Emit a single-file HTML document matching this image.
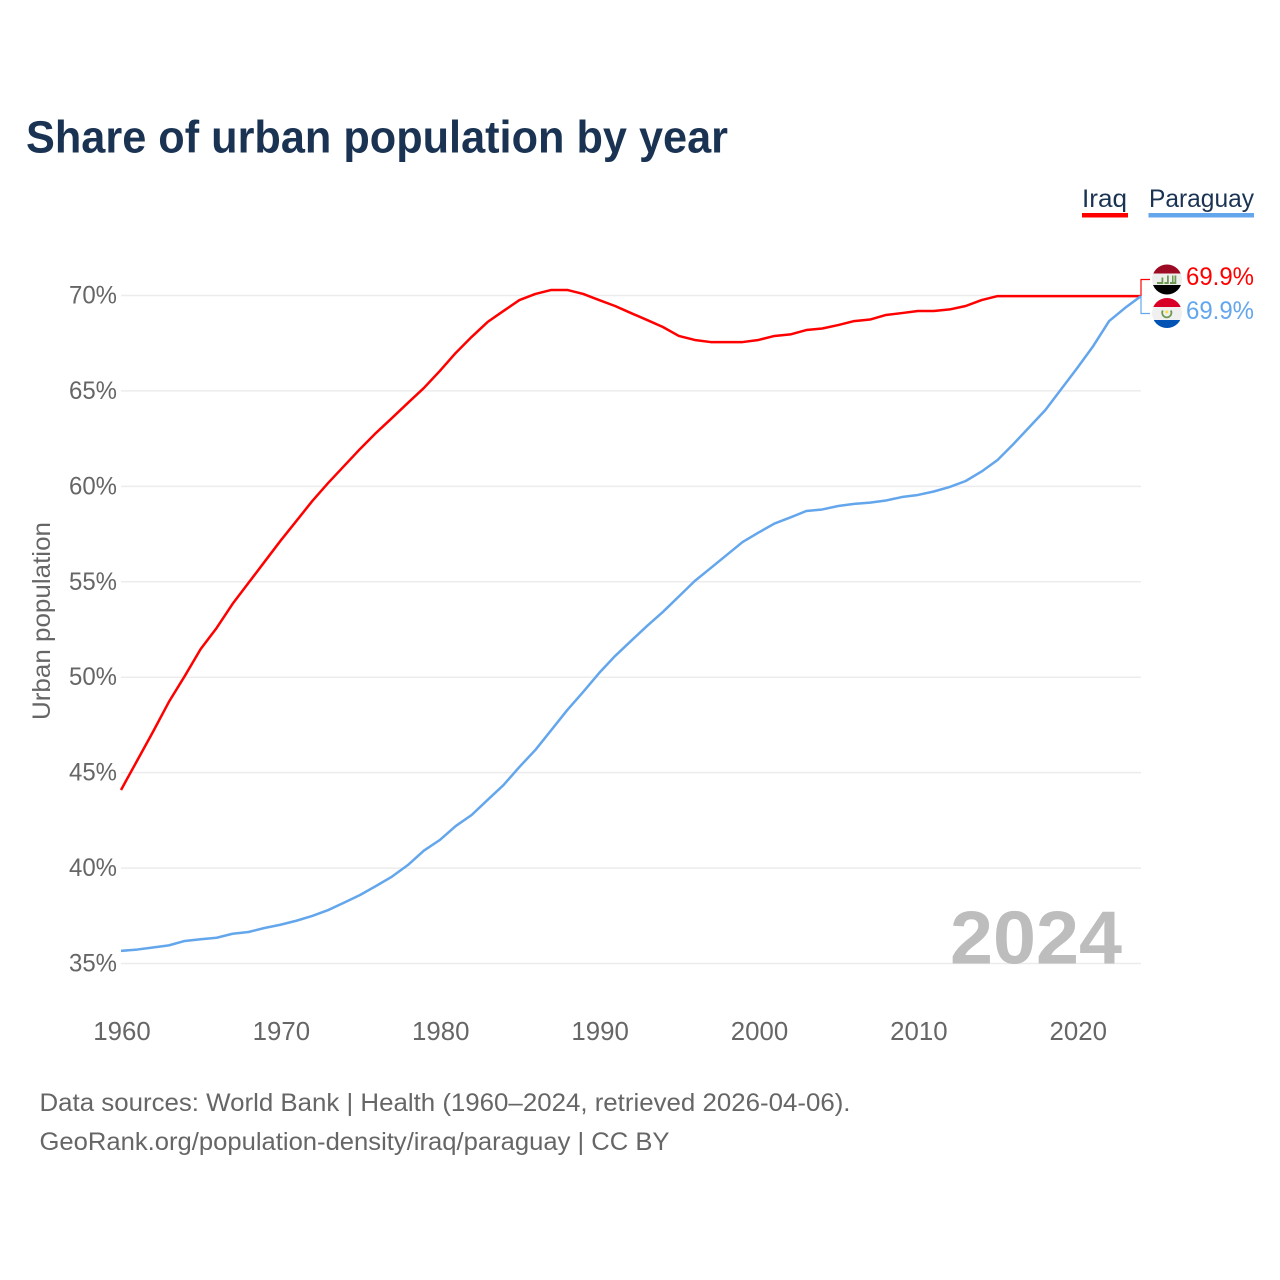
<!DOCTYPE html>
<html lang="en">
<head>
<meta charset="utf-8">
<title>Share of urban population by year</title>
<style>
html,body{margin:0;padding:0;background:#fff;}
svg{display:block;}
text{font-family:"Liberation Sans",sans-serif;}
</style>
</head>
<body>
<svg id="chart" xmlns="http://www.w3.org/2000/svg" width="1280" height="1280" viewBox="0 0 1280 1280">
  <defs>
    <clipPath id="clip-iraq"><circle cx="1167" cy="279.5" r="15"/></clipPath>
    <clipPath id="clip-paraguay"><circle cx="1167" cy="313" r="15"/></clipPath>
  </defs>
  <rect x="0" y="0" width="1280" height="1280" fill="#ffffff"/>
  <text x="26" y="152.500" font-size="45" font-weight="700" fill="#1a3353" textLength="702" lengthAdjust="spacingAndGlyphs">Share of urban population by year</text>

  <g>
    <g>
      <text x="1082" y="207" font-size="25" fill="#1a3353" textLength="45" lengthAdjust="spacingAndGlyphs">Iraq</text>
      <rect x="1082" y="213" width="46" height="4.5" fill="#ff0000"/>
    </g>
    <g>
      <text x="1149" y="207" font-size="25" fill="#1a3353" textLength="105" lengthAdjust="spacingAndGlyphs">Paraguay</text>
      <rect x="1148.5" y="213" width="105.5" height="4.5" fill="#63a6ec"/>
    </g>
  </g>

  <g id="grid"></g>
  <g id="y-axis"></g>
  <g id="x-axis"></g>
  <text transform="translate(50,621) rotate(-90)" text-anchor="middle" font-size="25" fill="#666666" textLength="198" lengthAdjust="spacingAndGlyphs">Urban population</text>

  <text x="950" y="963.500" font-size="75" font-weight="700" fill="#bdbdbd" textLength="172" lengthAdjust="spacingAndGlyphs">2024</text>

  <g id="series"></g>

  <g>
    <g clip-path="url(#clip-iraq)">
      <rect x="1152" y="264" width="30" height="9.500" fill="#9c0a23"/>
      <rect x="1152" y="273.500" width="30" height="11.500" fill="#eeeeee"/>
      <rect x="1152" y="285" width="30" height="10" fill="#000000"/>
      <path d="M1157 284v-2h4.500v-4.500h1.800v6.500zM1164.500 284v-2h2.500v-6.500h1.800v8.500zM1170 284v-2h2v-6.500h1.500v6.500h1v-6.500h1.800v8.500z" fill="#6d9a50"/>
    </g>
    <g clip-path="url(#clip-paraguay)">
      <rect x="1152" y="298" width="30" height="9" fill="#d80027"/>
      <rect x="1152" y="307" width="30" height="13" fill="#f0f0f0"/>
      <rect x="1152" y="320" width="30" height="9" fill="#0052b4"/>
      <path d="M1162.800 310.500a4.600 4.600 0 1 0 8 0" fill="none" stroke="#6d9a50" stroke-width="1.800"/>
      <circle cx="1166.800" cy="312" r="1.500" fill="#ffda44"/>
    </g>
    <text x="1186" y="285" font-size="25" fill="#ff0000" textLength="68" lengthAdjust="spacingAndGlyphs">69.9%</text>
    <text x="1186" y="319" font-size="25" fill="#63a6ec" textLength="68" lengthAdjust="spacingAndGlyphs">69.9%</text>
  </g>

  <text x="39.500" y="1111" font-size="25" fill="#666666" textLength="811" lengthAdjust="spacingAndGlyphs">Data sources: World Bank | Health (1960–2024, retrieved 2026-04-06).</text>
  <text x="39.500" y="1150" font-size="25" fill="#666666" textLength="630" lengthAdjust="spacingAndGlyphs">GeoRank.org/population-density/iraq/paraguay | CC BY</text>
</svg>

<script>
var startYear = 1960;
var iraqValues = [44.09,45.61,47.13,48.70,50.06,51.48,52.58,53.84,54.94,56.04,57.14,58.18,59.23,60.18,61.07,61.96,62.80,63.58,64.37,65.15,66.04,66.99,67.83,68.61,69.19,69.76,70.08,70.29,70.29,70.08,69.76,69.45,69.08,68.72,68.35,67.88,67.67,67.56,67.56,67.56,67.67,67.88,67.96,68.19,68.27,68.45,68.66,68.74,68.98,69.08,69.19,69.19,69.27,69.45,69.76,69.97,69.97,69.97,69.97,69.97,69.97,69.97,69.97,69.97,69.97];
var paraguayValues = [35.66,35.73,35.84,35.95,36.18,36.27,36.35,36.56,36.65,36.86,37.03,37.24,37.49,37.80,38.19,38.59,39.06,39.55,40.16,40.91,41.47,42.20,42.78,43.57,44.35,45.30,46.19,47.23,48.28,49.23,50.22,51.11,51.90,52.68,53.42,54.23,55.04,55.72,56.40,57.08,57.58,58.05,58.37,58.71,58.79,58.97,59.08,59.15,59.26,59.44,59.55,59.73,59.97,60.28,60.78,61.38,62.22,63.11,64.00,65.10,66.20,67.35,68.66,69.35,69.97];
var yTicks = [35,40,45,50,55,60,65,70];
var xTicks = [1960,1970,1980,1990,2000,2010,2020];

var SVG_NS = 'http://www.w3.org/2000/svg';
function xScale(year){ return 121 + (year - 1960) * (1020 / 64); }
function yScale(value){ return 963.5 - (value - 35) * (668 / 35); }

var grid = document.getElementById('grid');
var yAxis = document.getElementById('y-axis');
var xAxis = document.getElementById('x-axis');
var seriesGroup = document.getElementById('series');

yTicks.forEach(function(tick){
  var line = document.createElementNS(SVG_NS, 'line');
  
  
  line.setAttribute('x1', xScale(1960));
  line.setAttribute('x2', xScale(2024));
  line.setAttribute('y1', yScale(tick));
  line.setAttribute('y2', yScale(tick));
  line.setAttribute('stroke', '#ececec');
  line.setAttribute('stroke-width', '1.5');
  grid.appendChild(line);

  var label = document.createElementNS(SVG_NS, 'text');
  
  
  label.setAttribute('x', 69);
  label.setAttribute('y', yScale(tick) + 8);
  label.setAttribute('font-size', '25');
  label.setAttribute('fill', '#666666');
  label.setAttribute('textLength', '48');
  label.setAttribute('lengthAdjust', 'spacingAndGlyphs');
  label.textContent = tick + '%';
  yAxis.appendChild(label);
});

xTicks.forEach(function(tick){
  var label = document.createElementNS(SVG_NS, 'text');
  
  
  label.setAttribute('x', xScale(tick) + 1);
  label.setAttribute('y', 1040);
  label.setAttribute('text-anchor', 'middle');
  label.setAttribute('font-size', '25.8');
  label.setAttribute('fill', '#666666');
  label.textContent = tick;
  xAxis.appendChild(label);
});

function linePath(values){
  return values.map(function(value, i){
    return (i === 0 ? 'M' : 'L') + xScale(startYear + i).toFixed(2) + ' ' + yScale(value).toFixed(2);
  }).join('');
}

var lastX = xScale(startYear + iraqValues.length - 1);
var iraqEndY = yScale(iraqValues[iraqValues.length - 1]);
var paraguayEndY = yScale(paraguayValues[paraguayValues.length - 1]);

var iraqConnector = document.createElementNS(SVG_NS, 'polyline');


iraqConnector.setAttribute('points', lastX + ',' + iraqEndY + ' ' + lastX + ',279.5 1150,279.5');
iraqConnector.setAttribute('fill', 'none');
iraqConnector.setAttribute('stroke', '#ff0000');
iraqConnector.setAttribute('stroke-width', '1.2');
seriesGroup.appendChild(iraqConnector);

var paraguayConnector = document.createElementNS(SVG_NS, 'polyline');


paraguayConnector.setAttribute('points', lastX + ',' + paraguayEndY + ' ' + lastX + ',313.5 1150,313.5');
paraguayConnector.setAttribute('fill', 'none');
paraguayConnector.setAttribute('stroke', '#63a6ec');
paraguayConnector.setAttribute('stroke-width', '1.2');
seriesGroup.appendChild(paraguayConnector);

var iraqLine = document.createElementNS(SVG_NS, 'path');


iraqLine.setAttribute('d', linePath(iraqValues));
iraqLine.setAttribute('fill', 'none');
iraqLine.setAttribute('stroke', '#ff0000');
iraqLine.setAttribute('stroke-width', '2.5');
iraqLine.setAttribute('stroke-linejoin', 'round');
seriesGroup.appendChild(iraqLine);

var paraguayLine = document.createElementNS(SVG_NS, 'path');


paraguayLine.setAttribute('d', linePath(paraguayValues));
paraguayLine.setAttribute('fill', 'none');
paraguayLine.setAttribute('stroke', '#63a6ec');
paraguayLine.setAttribute('stroke-width', '2.5');
paraguayLine.setAttribute('stroke-linejoin', 'round');
seriesGroup.appendChild(paraguayLine);
</script>
</body>
</html>
